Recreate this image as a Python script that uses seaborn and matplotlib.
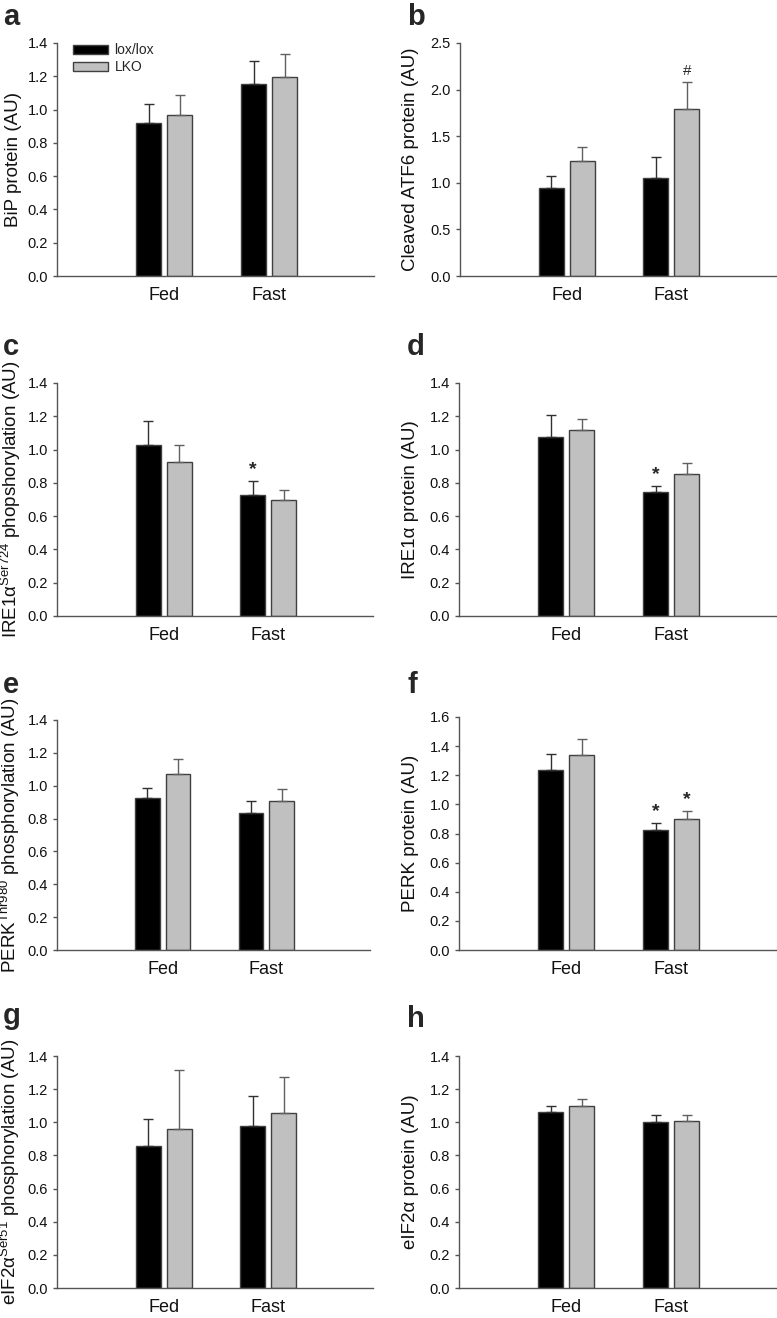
import pandas as pd
import seaborn as sns
import matplotlib.pyplot as plt

# categories
states = ['Fed', 'Fast']
genotypes = ['lox/lox', 'LKO']

# values (mean, upper error), order = [Fed, Fast]
bip_lox = [0.918, 1.151]
bip_lko = [0.969, 1.195]
bip_lox_err = [0.117, 0.139]
bip_lko_err = [0.116, 0.141]

atf6_lox = [0.946, 1.049]
atf6_lko = [1.232, 1.794]
atf6_lox_err = [0.125, 0.226]
atf6_lko_err = [0.154, 0.287]

pire_lox = [1.027, 0.730]
pire_lko = [0.923, 0.698]
pire_lox_err = [0.142, 0.080]
pire_lko_err = [0.102, 0.062]

ire_lox = [1.075, 0.744]
ire_lko = [1.117, 0.856]
ire_lox_err = [0.130, 0.036]
ire_lko_err = [0.066, 0.063]

pperk_lox = [0.923, 0.836]
pperk_lko = [1.073, 0.907]
pperk_lox_err = [0.065, 0.071]
pperk_lko_err = [0.087, 0.073]

perk_lox = [1.236, 0.827]
perk_lko = [1.336, 0.901]
perk_lox_err = [0.107, 0.046]
perk_lko_err = [0.113, 0.053]

peif_lox = [0.859, 0.980]
peif_lko = [0.962, 1.058]
peif_lox_err = [0.161, 0.181]
peif_lko_err = [0.354, 0.217]

eif_lox = [1.060, 1.000]
eif_lko = [1.100, 1.010]
eif_lox_err = [0.040, 0.046]
eif_lko_err = [0.043, 0.032]

# significance marks
atf6_marks_lko = ['', '#']
pire_marks_lox = ['', '*']
ire_marks_lox = ['', '*']
perk_marks_lox = ['', '*']
perk_marks_lko = ['', '*']
no_marks = ['', '']

sns.set_theme(style='ticks')
plt.rcParams['font.family'] = ['Liberation Sans', 'DejaVu Sans']
plt.rcParams['mathtext.fontset'] = 'custom'
plt.rcParams['mathtext.rm'] = 'Liberation Sans'
plt.rcParams['mathtext.it'] = 'Liberation Sans:italic'

W, H = 777, 1318
fig = plt.figure(figsize=(W / 100, H / 100), dpi=100)
axis_col = '#555555'


def rect(l, r, t, b):
    return [l / W, 1 - b / H, (r - l) / W, (b - t) / H]


def panel(box, lox, lko, lox_err, lko_err, ylabel, ymax, step, label_off,
          marks_lox=no_marks, marks_lko=no_marks, legend=False):
    ax = fig.add_axes(rect(*box))
    df = pd.DataFrame({
        'state': states * 2,
        'genotype': [genotypes[0]] * 2 + [genotypes[1]] * 2,
        'value': lox + lko,
    })
    sns.barplot(data=df, x='state', y='value', hue='genotype', order=states,
                hue_order=genotypes, palette=['black', '#c0c0c0'],
                width=0.59, gap=0.19, errorbar=None, edgecolor='#404040',
                linewidth=1, ax=ax, legend=legend)
    for cont, errs, marks, ecol in zip(ax.containers, [lox_err, lko_err],
                                       [marks_lox, marks_lko],
                                       ['#303030', '#606060']):
        xs = [b.get_x() + b.get_width() / 2 for b in cont]
        ys = [b.get_height() for b in cont]
        ax.errorbar(xs, ys, yerr=[[0] * len(errs), errs], fmt='none',
                    ecolor=ecol, elinewidth=1, capsize=3.5, capthick=1)
        for x, y, e, m in zip(xs, ys, errs, marks):
            if m == '*':
                ax.annotate(m, (x, y + e), xytext=(0, 2), textcoords='offset points',
                            ha='center', va='bottom', fontsize=14, fontweight='bold')
            elif m:
                ax.annotate(m, (x, y + e), xytext=(0, 3), textcoords='offset points',
                            ha='center', va='bottom', fontsize=11)
    ax.set_xlim(-1.02, 2.0)
    ax.set_ylim(0, ymax)
    n = int(round(ymax / step))
    ticks = [i * step for i in range(n + 1)]
    ax.set_yticks(ticks)
    ax.set_yticklabels([f'{t:.1f}' for t in ticks])
    ax.set_xlabel('')
    ax.set_ylabel(ylabel, fontsize=13.5, color='#111111')
    ax.yaxis.set_label_coords(-label_off / (box[1] - box[0]), 0.5)
    sns.despine(ax=ax)
    for s in ['left', 'bottom']:
        ax.spines[s].set_color(axis_col)
        ax.spines[s].set_linewidth(1)
    ax.tick_params(axis='y', length=3, width=1, color=axis_col, pad=3.5,
                   labelsize=10.5, labelcolor='#111111')
    ax.tick_params(axis='x', length=0, pad=8, labelsize=13, labelcolor='#111111')
    if legend:
        ax.legend(loc='upper left', bbox_to_anchor=(0.05, 1.0), frameon=False,
                  fontsize=10, handlelength=2.5, handleheight=0.6,
                  labelspacing=0.25, handletextpad=0.5, borderpad=0,
                  borderaxespad=0)
    return ax


panel((57, 374, 43, 276), bip_lox, bip_lko, bip_lox_err, bip_lko_err,
      'BiP protein (AU)', 1.4, 0.2, 35, legend=True)
panel((460, 776, 43, 276), atf6_lox, atf6_lko, atf6_lox_err, atf6_lko_err,
      'Cleaved ATF6 protein (AU)', 2.5, 0.5, 41, marks_lko=atf6_marks_lko)
panel((57, 373, 383, 616), pire_lox, pire_lko, pire_lox_err, pire_lko_err,
      r'IRE1α$^{\mathrm{Ser724}}$ phopshorylation (AU)', 1.4, 0.2, 34,
      marks_lox=pire_marks_lox)
panel((459, 776, 383, 616), ire_lox, ire_lko, ire_lox_err, ire_lko_err,
      'IRE1α protein (AU)', 1.4, 0.2, 40, marks_lox=ire_marks_lox)
panel((57, 370, 720, 950), pperk_lox, pperk_lko, pperk_lox_err, pperk_lko_err,
      r'PERK$^{\mathrm{Thr980}}$ phosphorylation (AU)', 1.4, 0.2, 35)
panel((459, 776, 717, 950), perk_lox, perk_lko, perk_lox_err, perk_lko_err,
      'PERK protein (AU)', 1.6, 0.2, 40, marks_lox=perk_marks_lox,
      marks_lko=perk_marks_lko)
panel((57, 373, 1056, 1288), peif_lox, peif_lko, peif_lox_err, peif_lko_err,
      r'eIF2α$^{\mathrm{Ser51}}$ phosphorylation (AU)', 1.4, 0.2, 35)
panel((459, 776, 1056, 1288), eif_lox, eif_lko, eif_lox_err, eif_lko_err,
      'eIF2α protein (AU)', 1.4, 0.2, 40)

# panel letters
for letter, x, y in [('a', 3, 25), ('b', 407, 25), ('c', 3, 355), ('d', 407, 355),
                     ('e', 3, 693), ('f', 407, 693), ('g', 3, 1024), ('h', 407, 1027)]:
    fig.text(x / W, 1 - y / H, letter, fontsize=21, fontweight='bold',
             ha='left', va='baseline')

fig.savefig('out.png', dpi=100)
